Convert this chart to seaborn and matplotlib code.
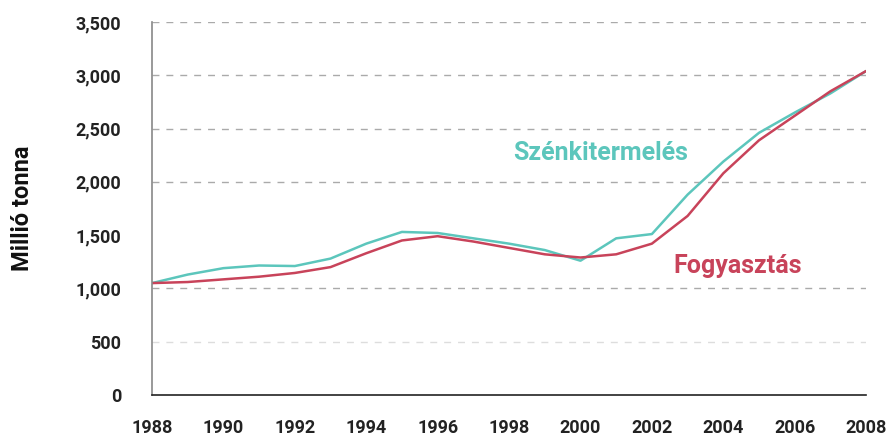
import numpy as np
import pandas as pd
import seaborn as sns
import matplotlib
matplotlib.use("Agg")
import matplotlib.pyplot as plt
from matplotlib import font_manager

years = list(range(1988, 2009))
production = [1050, 1130, 1190, 1215, 1210, 1280, 1420, 1530, 1520, 1470, 1420, 1360, 1260,
              1470, 1510, 1880, 2190, 2460, 2650, 2830, 3040]
consumption = [1050, 1060, 1085, 1110, 1145, 1200, 1330, 1450, 1490, 1440, 1380, 1320, 1290,
               1320, 1420, 1680, 2080, 2390, 2620, 2850, 3040]
grid_levels = [500, 1000, 2000, 2500, 3000, 3500]
y_ticks = [0, 500, 1000, 1500, 2000, 2500, 3000, 3500]
x_ticks = list(range(1988, 2009, 2))

teal = "#5cc6bc"
red = "#c8435a"

sns.set_style("white")
names = {f.name for f in font_manager.fontManager.ttflist}
fam = "Liberation Sans Narrow" if "Liberation Sans Narrow" in names else "Roboto"
plt.rcParams['font.family'] = [fam, 'DejaVu Sans']

df = pd.DataFrame({"Év": years, "Szénkitermelés": production, "Fogyasztás": consumption})

fig = plt.figure(figsize=(8.92, 4.38), dpi=100)
ax = fig.add_axes([0.1704, 0.0982, 0.8006, 0.8516])

for g in grid_levels:
    ax.axhline(g, color="#aaaaaa" if g != 500 else "#dddddd", lw=1, ls=(0, (5, 5)), zorder=0)

sns.lineplot(data=df, x="Év", y="Szénkitermelés", color=teal, lw=1.8, ax=ax)
sns.lineplot(data=df, x="Év", y="Fogyasztás", color=red, lw=1.8, ax=ax)

ax.set_xlim(1988, 2008)
ax.set_ylim(0, 3500)
ax.set_xticks(x_ticks)
ax.set_yticks(y_ticks)
ax.set_yticklabels([f"{v:,}" for v in y_ticks])
ax.tick_params(axis="both", length=0, labelsize=13, colors="#222222")
ax.tick_params(axis="y", pad=22)
ax.tick_params(axis="x", pad=17)
for lab in ax.get_xticklabels() + ax.get_yticklabels():
    lab.set_fontweight("bold")

ax.set_xlabel("")
ax.set_ylabel("Millió tonna", fontsize=17, fontweight="bold", color="#111111", labelpad=30)

for s in ["top", "right"]:
    ax.spines[s].set_visible(False)
ax.spines["left"].set_color("#888888")
ax.spines["left"].set_linewidth(1.2)
ax.spines["bottom"].set_color("#222222")
ax.spines["bottom"].set_linewidth(1.2)

ax.text(1998.1, 2270, "Szénkitermelés", color=teal, fontsize=18, fontweight="bold",
        ha="left", va="center")
ax.text(2002.6, 1210, "Fogyasztás", color=red, fontsize=18, fontweight="bold",
        ha="left", va="center")

fig.savefig("out.png", dpi=100)
